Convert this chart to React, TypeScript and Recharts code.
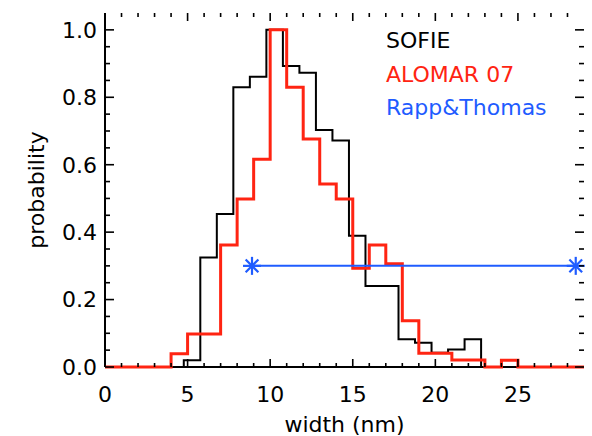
import React from 'react';
import { ComposedChart, Line, XAxis, YAxis, Legend, ReferenceLine } from 'recharts';

// SOFIE histogram: bin left edges (last value = right end of plot) and probabilities
const SOFIE_EDGES = [0, 4.77, 5.77, 6.77, 7.77, 8.77, 9.77, 10.77, 11.77, 12.77, 13.77, 14.77, 15.77, 16.77, 17.77, 18.77, 19.77, 20.77, 21.77, 22.77, 29];
const SOFIE_PROB = [0, 0.02, 0.325, 0.454, 0.83, 0.861, 1.0, 0.893, 0.873, 0.703, 0.672, 0.389, 0.24, 0.24, 0.082, 0.072, 0.042, 0.052, 0.082, 0, 0];

// ALOMAR 07 histogram
const ALOMAR_EDGES = [0, 4, 5, 6, 7, 8, 9, 10, 11, 12, 13, 14, 15, 16, 17, 18, 19, 20, 21, 22, 23, 24, 25, 29];
const ALOMAR_PROB = [0, 0.039, 0.098, 0.098, 0.362, 0.498, 0.616, 1.0, 0.83, 0.676, 0.543, 0.498, 0.293, 0.362, 0.306, 0.137, 0.041, 0.041, 0.021, 0.021, 0, 0.02, 0, 0];

// Rapp & Thomas range
const RAPP_WIDTH = [8.9, 28.5];
const RAPP_PROB = [0.3, 0.3];

const X_DOMAIN: [number, number] = [0, 29];
const Y_DOMAIN: [number, number] = [0, 1.05];
const X_TICKS = [0, 1, 2, 3, 4, 5, 6, 7, 8, 9, 10, 11, 12, 13, 14, 15, 16, 17, 18, 19, 20, 21, 22, 23, 24, 25, 26, 27, 28];
const X_MAJOR = [0, 5, 10, 15, 20, 25];
const Y_TICKS = [0, 0.05, 0.1, 0.15, 0.2, 0.25, 0.3, 0.35, 0.4, 0.45, 0.5, 0.55, 0.6, 0.65, 0.7, 0.75, 0.8, 0.85, 0.9, 0.95, 1.0];
const Y_MAJOR = [0, 0.2, 0.4, 0.6, 0.8, 1.0];

const SERIES_NAMES = ['SOFIE', 'ALOMAR 07', 'Rapp&Thomas'];
const SERIES_COLORS = ['#000000', '#ff2412', '#1f5cff'];

const X_LABEL = 'width (nm)';
const Y_LABEL = 'probability';

const FONT = '"DejaVu Sans", "Liberation Sans", sans-serif';

// chart geometry
const W = 592;
const H = 436;
const MARGIN = { top: 13, right: 8, left: 0, bottom: 0 };
const Y_AXIS_W = 105;
const X_AXIS_H = 69;
const PLOT_W = W - MARGIN.left - MARGIN.right - Y_AXIS_W;
const PLOT_H = H - MARGIN.top - MARGIN.bottom - X_AXIS_H;
// pixel lengths of inward tick marks, converted to data units
const XU = (X_DOMAIN[1] - X_DOMAIN[0]) / PLOT_W;
const YU = (Y_DOMAIN[1] - Y_DOMAIN[0]) / PLOT_H;
const X_MAJ_LEN = 8;
const X_MIN_LEN = 4;
const Y_MAJ_LEN = 9;
const Y_MIN_LEN = 5;

const sofieData = SOFIE_EDGES.map((w, i) => ({ w, p: SOFIE_PROB[i] }));
const alomarData = ALOMAR_EDGES.map((w, i) => ({ w, p: ALOMAR_PROB[i] }));
const rappData = RAPP_WIDTH.map((w, i) => ({ w, p: RAPP_PROB[i] }));

const isMajorY = (v: number) => Y_MAJOR.some((m) => Math.abs(m - v) < 1e-6);
const isMajorX = (v: number) => X_MAJOR.includes(v);

const tickStyle = { fontFamily: FONT, fontSize: 22, fill: '#000' };

const Asterisk = (props: any) => {
  const { cx, cy } = props;
  if (cx == null || cy == null) return null;
  const r = 9;
  const d = r * 0.7071;
  return (
    <g stroke={SERIES_COLORS[2]} strokeWidth={2.2}>
      <line x1={cx - r} y1={cy} x2={cx + r} y2={cy} />
      <line x1={cx} y1={cy - r} x2={cx} y2={cy + r} />
      <line x1={cx - d} y1={cy - d} x2={cx + d} y2={cy + d} />
      <line x1={cx - d} y1={cy + d} x2={cx + d} y2={cy - d} />
    </g>
  );
};

const LegendContent = () => (
  <div style={{ fontFamily: FONT, fontSize: 22 }}>
    {SERIES_NAMES.map((name, i) => (
      <div key={name} style={{ color: SERIES_COLORS[i], height: 33.5, lineHeight: '33.5px', whiteSpace: 'pre' }}>
        {name}
      </div>
    ))}
  </div>
);

const markProps = { xAxisId: 't', yAxisId: 'r', stroke: '#000', strokeWidth: 1.6, ifOverflow: 'visible' as const, zIndex: 700 };

export default function App() {
  const axisLine = { stroke: '#000', strokeWidth: 2 };
  const marks: React.ReactNode[] = [];
  X_TICKS.forEach((v) => {
    const len = (isMajorX(v) ? X_MAJ_LEN : X_MIN_LEN) * YU;
    marks.push(
      <ReferenceLine key={`bx${v}`} {...markProps} segment={[{ x: v, y: Y_DOMAIN[0] + len }, { x: v, y: Y_DOMAIN[0] }]} />,
      <ReferenceLine key={`tx${v}`} {...markProps} segment={[{ x: v, y: Y_DOMAIN[1] }, { x: v, y: Y_DOMAIN[1] - len }]} />
    );
  });
  Y_TICKS.forEach((v) => {
    const len = (isMajorY(v) ? Y_MAJ_LEN : Y_MIN_LEN) * XU;
    marks.push(
      <ReferenceLine key={`ly${v}`} {...markProps} segment={[{ x: X_DOMAIN[0] + len, y: v }, { x: X_DOMAIN[0], y: v }]} />,
      <ReferenceLine key={`ry${v}`} {...markProps} segment={[{ x: X_DOMAIN[1], y: v }, { x: X_DOMAIN[1] - len, y: v }]} />
    );
  });

  return (
    <div style={{ position: 'absolute', left: 0, top: 0, width: W, height: H, background: '#fff' }}>
      <ComposedChart width={W} height={H} margin={MARGIN}>
        <XAxis
          xAxisId="b"
          type="number"
          dataKey="w"
          domain={X_DOMAIN}
          ticks={X_TICKS}
          interval={0}
          tickSize={0}
          tickMargin={19}
          tickLine={false}
          tick={tickStyle}
          tickFormatter={(v: number) => (isMajorX(v) ? String(v) : '')}
          height={X_AXIS_H}
          axisLine={axisLine}
          label={{ value: X_LABEL, position: 'insideBottom', offset: 4, style: tickStyle }}
        />
        <XAxis
          xAxisId="t"
          orientation="top"
          type="number"
          dataKey="w"
          domain={X_DOMAIN}
          ticks={X_TICKS}
          tick={false}
          tickLine={false}
          height={0}
          axisLine={axisLine}
        />
        <YAxis
          yAxisId="l"
          type="number"
          domain={Y_DOMAIN}
          ticks={Y_TICKS}
          interval={0}
          tickSize={0}
          tickMargin={8}
          tickLine={false}
          tick={tickStyle}
          tickFormatter={(v: number) => (isMajorY(v) ? v.toFixed(1) : '')}
          width={Y_AXIS_W}
          axisLine={axisLine}
          label={{ value: Y_LABEL, angle: -90, position: 'insideLeft', offset: 36, style: { ...tickStyle, textAnchor: 'middle' } }}
        />
        <YAxis
          yAxisId="r"
          orientation="right"
          type="number"
          domain={Y_DOMAIN}
          ticks={Y_TICKS}
          tick={false}
          tickLine={false}
          width={0}
          axisLine={axisLine}
        />
        <Legend
          layout="horizontal"
          verticalAlign="middle"
          align="center"
          content={<LegendContent />}
          wrapperStyle={{ left: 386, top: 24, width: 200, height: 101 }}
        />
        {marks}
        {/* invisible carrier so the top and right frame axes get a domain */}
        <Line
          xAxisId="t"
          yAxisId="r"
          data={sofieData}
          dataKey="p"
          stroke="none"
          strokeWidth={0}
          dot={false}
          activeDot={false}
          legendType="none"
          isAnimationActive={false}
        />
        <Line
          xAxisId="b"
          yAxisId="l"
          data={sofieData}
          dataKey="p"
          name={SERIES_NAMES[0]}
          type="stepAfter"
          stroke={SERIES_COLORS[0]}
          strokeWidth={2}
          dot={false}
          activeDot={false}
          isAnimationActive={false}
          zIndex={600}
        />
        <Line
          xAxisId="b"
          yAxisId="l"
          data={alomarData}
          dataKey="p"
          name={SERIES_NAMES[1]}
          type="stepAfter"
          stroke={SERIES_COLORS[1]}
          strokeWidth={3}
          dot={false}
          activeDot={false}
          isAnimationActive={false}
          zIndex={601}
        />
        <Line
          xAxisId="b"
          yAxisId="l"
          data={rappData}
          dataKey="p"
          name={SERIES_NAMES[2]}
          type="linear"
          stroke={SERIES_COLORS[2]}
          strokeWidth={2}
          dot={<Asterisk />}
          activeDot={false}
          isAnimationActive={false}
          zIndex={602}
        />
      </ComposedChart>
    </div>
  );
}
